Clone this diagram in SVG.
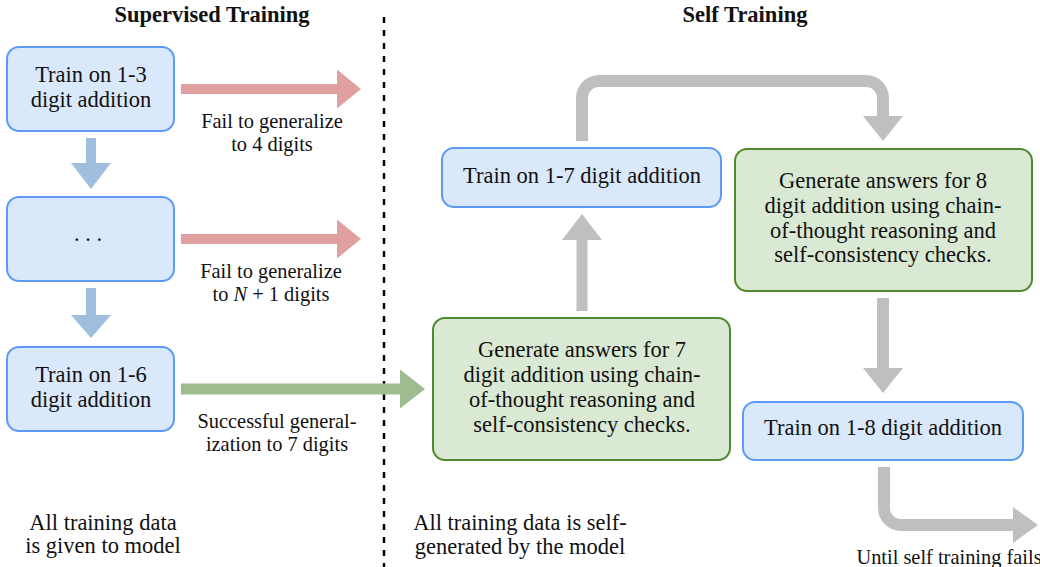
<svg xmlns="http://www.w3.org/2000/svg" width="1040" height="567" viewBox="0 0 1040 567">
<style>
text{font-family:'Liberation Serif','Times New Roman',serif;fill:#111;}
.t{font-size:22.5px;text-anchor:middle;}
.h{font-size:22.5px;font-weight:bold;text-anchor:middle;}
.l{font-size:20.4px;text-anchor:middle;}
.blue{fill:#dae8fc;stroke:#5c9bf5;stroke-width:2;}
.green{fill:#d9e9d3;stroke:#4f8a2e;stroke-width:2;}
.ab{fill:#a0bfdf;}
.ar{fill:#e0a0a0;}
.ag{fill:#9ebc8f;}
.gy{fill:#bfbfbf;}
.gs{fill:none;stroke:#bfbfbf;stroke-width:12;}
</style>
<rect width="1040" height="567" fill="#ffffff"/>
<text class="h" x="212" y="22" font-family="Liberation Serif">Supervised Training</text>
<text class="h" x="745" y="22" font-family="Liberation Serif">Self Training</text>
<line x1="384" y1="17" x2="384" y2="567" stroke="#000" stroke-width="2.5" stroke-dasharray="6 7"/>
<g id="connectors">
  <rect class="ab" x="86" y="138" width="10" height="26"/>
  <polygon class="ab" points="71,163 111,163 91,189"/>
  <rect class="ab" x="86" y="288" width="10" height="28"/>
  <polygon class="ab" points="71,315 111,315 91,338"/>
  <rect class="ar" x="181" y="84" width="157" height="10"/>
  <polygon class="ar" points="337,69.5 337,108.5 361,89"/>
  <rect class="ar" x="181" y="234" width="157" height="10"/>
  <polygon class="ar" points="337,219.5 337,258.5 361,239"/>
  <rect class="ag" x="181" y="383.5" width="220" height="11"/>
  <polygon class="ag" points="400,369.5 400,408.5 425,389"/>
  <rect class="gy" x="576.5" y="239" width="11" height="72"/>
  <polygon class="gy" points="562,240 602,240 582,214"/>
  <path class="gs" d="M582,141 V98 A17,17 0 0 1 599,81 H866 A17,17 0 0 1 883,98 V117"/>
  <polygon class="gy" points="863,116 903,116 883,141"/>
  <rect class="gy" x="877" y="298" width="12" height="71"/>
  <polygon class="gy" points="863,368 903,368 883,393"/>
  <path class="gs" d="M884,467 V508 A17,17 0 0 0 901,525 H1014"/>
  <polygon class="gy" points="1013,507 1013,543 1038,525"/>
</g>
<g id="n1" font-family="Liberation Serif"><rect class="blue" x="7" y="47" width="167" height="84" rx="12"/>
<text class="t" x="91" y="82">Train on 1-3</text><text class="t" x="91" y="107">digit addition</text></g>
<g id="n2" font-family="Liberation Serif"><rect class="blue" x="7" y="197" width="167" height="84" rx="12"/>
<text class="t" x="88" y="241">. . .</text></g>
<g id="n3" font-family="Liberation Serif"><rect class="blue" x="7" y="347" width="167" height="84" rx="12"/>
<text class="t" x="91" y="382">Train on 1-6</text><text class="t" x="91" y="407">digit addition</text></g>
<g id="n4" font-family="Liberation Serif"><rect class="blue" x="442" y="148" width="279" height="59" rx="12"/>
<text class="t" x="582" y="183">Train on 1-7 digit addition</text></g>
<g id="n5" font-family="Liberation Serif"><rect class="green" x="433" y="318" width="297" height="142" rx="12"/>
<text class="t" x="582" y="357">Generate answers for 7</text>
<text class="t" x="582" y="382">digit addition using chain-</text>
<text class="t" x="582" y="407">of-thought reasoning and</text>
<text class="t" x="582" y="432">self-consistency checks.</text></g>
<g id="n6" font-family="Liberation Serif"><rect class="green" x="735" y="149" width="297" height="142" rx="12"/>
<text class="t" x="883" y="188">Generate answers for 8</text>
<text class="t" x="883" y="213">digit addition using chain-</text>
<text class="t" x="883" y="238">of-thought reasoning and</text>
<text class="t" x="883" y="262">self-consistency checks.</text></g>
<g id="n7" font-family="Liberation Serif"><rect class="blue" x="743" y="402" width="280" height="58" rx="12"/>
<text class="t" x="883" y="435">Train on 1-8 digit addition</text></g>
<g id="labels" font-family="Liberation Serif">
<text class="l" x="272" y="128">Fail to generalize</text>
<text class="l" x="272" y="151">to 4 digits</text>
<text class="l" x="271" y="278">Fail to generalize</text>
<text class="l" x="271" y="301">to <tspan font-style="italic">N</tspan> + 1 digits</text>
<text class="l" x="277" y="428">Successful general-</text>
<text class="l" x="277" y="451">ization to 7 digits</text>
<text class="t" x="103" y="530">All training data</text>
<text class="t" x="103" y="553">is given to model</text>
<text class="t" x="520" y="530">All training data is self-</text>
<text class="t" x="520" y="554">generated by the model</text>
<text class="l" x="949" y="564">Until self training fails</text>
</g>
</svg>
